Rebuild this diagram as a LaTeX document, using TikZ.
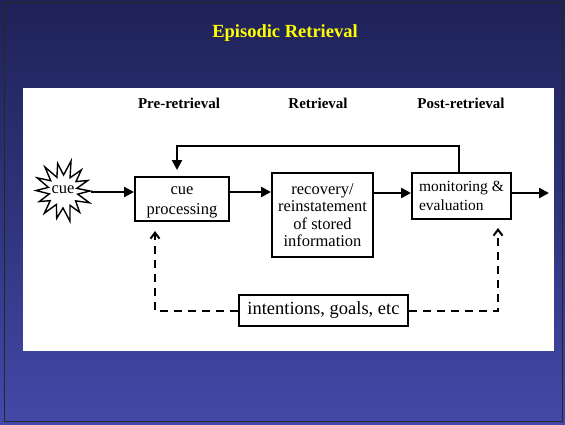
\documentclass[tikz,border=0pt]{standalone}
\usepackage{fontspec}
\setmainfont{Liberation Serif}
\usetikzlibrary{arrows.meta,calc}
\definecolor{bgtop}{HTML}{1F2257}
\definecolor{bgbot}{HTML}{4349A8}
\definecolor{titley}{HTML}{FFFF00}
\tikzset{
  procbox/.style={draw=black,line width=2pt,fill=white,align=center,inner sep=0pt,font=\fontsize{16.5}{17.5}\selectfont},
  flow/.style={draw=black,line width=2.4pt,-{Triangle[length=10pt,width=10pt]}},
  goal/.style={draw=black,line width=2pt,dash pattern=on 8pt off 6pt,-{Straight Barb[length=6pt,width=9pt,line width=2pt]}},
  head/.style={font=\bfseries\fontsize{15}{17}\selectfont},
}
\begin{document}
\begin{tikzpicture}[x=1pt,y=-1pt]
\useasboundingbox (0,0) rectangle (565,424);
% background
\shade[top color=bgtop,bottom color=bgbot,middle color=bgtop!55!bgbot,shading angle=0] (0,0) rectangle (565,424);
\draw[black!85,line width=1.5pt] (4.5,2.5) rectangle (562.5,421.5);
\fill[white] (23,88) rectangle (554,351);
% title
\node[font=\bfseries\fontsize{18.5}{20}\selectfont,text=titley] (title) at (285,33) {Episodic Retrieval};
% headings
\node[head] (h1) at (179,103) {Pre-retrieval};
\node[head] (h2) at (318,103) {Retrieval};
\node[head] (h3) at (461,103) {Post-retrieval};
% cue star
\draw[black,line width=1.4pt,fill=white,line join=miter]
  ($(63,191)+(0:27)$) -- ($(63,191)+(12:15)$) -- ($(63,191)+(24:29)$) -- ($(63,191)+(38:16)$) --
  ($(63,191)+(52:27)$) -- ($(63,191)+(64:16)$) -- ($(63,191)+(77:31)$) -- ($(63,191)+(90:17)$) --
  ($(63,191)+(103:28)$) -- ($(63,191)+(116:15)$) -- ($(63,191)+(130:29)$) -- ($(63,191)+(143:16)$) --
  ($(63,191)+(156:26)$) -- ($(63,191)+(168:14)$) -- ($(63,191)+(181:27)$) -- ($(63,191)+(194:15)$) --
  ($(63,191)+(207:29)$) -- ($(63,191)+(220:16)$) -- ($(63,191)+(233:30)$) -- ($(63,191)+(246:15)$) --
  ($(63,191)+(259:28)$) -- ($(63,191)+(272:16)$) -- ($(63,191)+(285:31)$) -- ($(63,191)+(298:15)$) --
  ($(63,191)+(311:28)$) -- ($(63,191)+(324:16)$) -- ($(63,191)+(337:27)$) -- ($(63,191)+(349:14)$) -- cycle;
\node[circle,minimum size=56pt,inner sep=0pt,font=\fontsize{16.5}{17.5}\selectfont] (star) at (63,190) {cue};
% boxes
\node[procbox,minimum width=94pt,minimum height=44pt,font=\fontsize{16.5}{20}\selectfont] (cp) at (182,199) {\strut cue\\processing};
\node[procbox,minimum width=101pt,minimum height=84pt] (rec) at (322.5,215) {recovery/\\reinstatement\\of stored\\information};
\node[procbox,minimum width=99pt,minimum height=46pt,align=left,font=\fontsize{15.5}{19}\selectfont] (mon) at (461.5,196) {monitoring \&\\evaluation};
\node[procbox,minimum width=169pt,minimum height=31pt,font=\fontsize{18.5}{20}\selectfont] (int) at (323.5,310.5) {intentions, goals, etc};
% coordinates
\coordinate (fbtop) at (459,146);
\coordinate (out) at (549,193);
% flow arrows
\draw[flow] (star.east |- 0,192) -- (cp.west |- 0,192);
\draw[flow] (cp.east |- 0,192) -- (rec.west |- 0,192);
\draw[flow] (rec.east |- 0,193) -- (mon.west |- 0,193);
\draw[flow] (mon.east |- out) -- (out);
\draw[flow,shorten >=6pt] (mon.north -| fbtop) -- (fbtop) -| (cp.north -| 177,0);
% dashed goal arrows
\draw[goal,shorten >=9pt] (int.west) -| (cp.south -| 155,0);
\draw[goal,shorten >=8pt] (int.east) -| (mon.south -| 498,0);
\end{tikzpicture}
\end{document}
